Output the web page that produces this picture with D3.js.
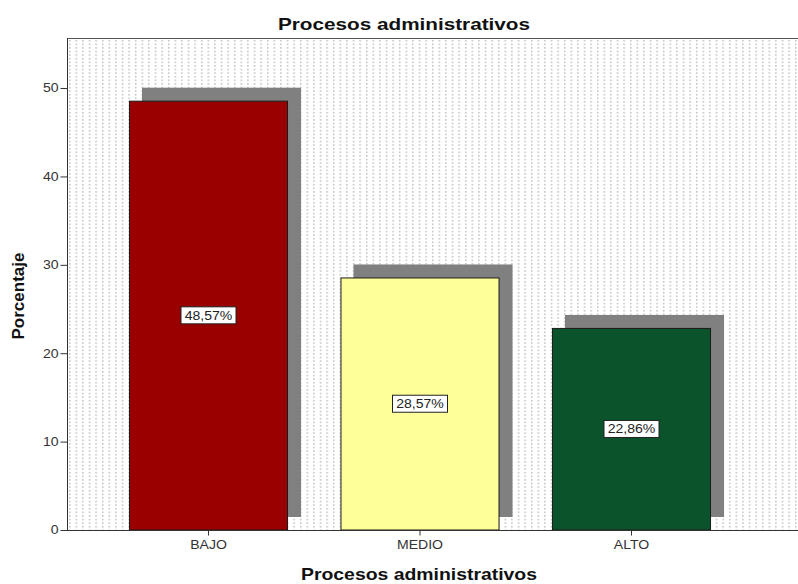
<!DOCTYPE html>
<html>
<head>
<meta charset="utf-8">
<script src="https://cdn.jsdelivr.net/npm/d3@7"></script>
<style>
  html, body { margin: 0; padding: 0; background: #fff; }
  svg { display: block; font-family: Arial, "Liberation Sans", sans-serif; }
</style>
</head>
<body>
<svg id="chart" width="798" height="584"></svg>
<script>
// Chart data
const categories = ["BAJO", "MEDIO", "ALTO"];
const percentages = [48.57, 28.57, 22.86];
const barColors = ["#990000", "#ffff99", "#0b532b"];
const yTicks = [0, 10, 20, 30, 40, 50];
const chartTitle = "Procesos administrativos";
const xTitle = "Procesos administrativos";
const yTitle = "Porcentaje";

const svg = d3.select("#chart");
const plot = { left: 67, top: 38, right: 798, bottom: 530 };
const FONT = "Arial, 'Liberation Sans', sans-serif";
const STRETCH = 1.17; // text is drawn slightly wide

// widen a text element horizontally by a factor, keeping its anchor
function widen(sel, k) {
  sel.each(function () {
    const w = this.getComputedTextLength();
    if (w > 0) {
      this.setAttribute("textLength", w * k);
      this.setAttribute("lengthAdjust", "spacingAndGlyphs");
    }
  });
}

const x = d3.scaleBand()
  .domain(categories)
  .range([102.75, 737.25])
  .paddingInner(0.248)
  .paddingOuter(0.124);

const y = d3.scaleLinear()
  .domain([0, 55.66])
  .range([plot.bottom, plot.top]);

// Dotted background pattern
const defs = svg.append("defs");
const pat = defs.append("pattern")
  .attr("id", "dots")
  .attr("patternUnits", "userSpaceOnUse")
  .attr("x", plot.left + 1).attr("y", plot.top + 1)
  .attr("width", 6.6).attr("height", 3.6);
pat.append("rect").attr("width", 6.6).attr("height", 3.6).attr("fill", "#fff");
pat.append("rect").attr("x", 1).attr("y", 1).attr("width", 1.4).attr("height", 1.4).attr("fill", "#b4b4b4");

svg.append("rect")
  .attr("x", plot.left).attr("y", plot.top)
  .attr("width", plot.right - plot.left).attr("height", plot.bottom - plot.top)
  .attr("fill", "url(#dots)");

// Top frame line
svg.append("line")
  .attr("x1", plot.left).attr("x2", plot.right)
  .attr("y1", plot.top + 0.5).attr("y2", plot.top + 0.5)
  .attr("stroke", "#555").attr("stroke-width", 1);

const off = 13;
const data = categories.map((c, i) => ({ c, v: percentages[i], color: barColors[i] }));

// Drop shadows
svg.append("g").selectAll("rect")
  .data(data).join("rect")
  .attr("x", d => x(d.c) + off)
  .attr("y", d => y(d.v) - off)
  .attr("width", x.bandwidth())
  .attr("height", d => y(0) - y(d.v))
  .attr("fill", "#808080");

// Bars
svg.append("g").selectAll("rect")
  .data(data).join("rect")
  .attr("x", d => x(d.c) + 0.5)
  .attr("y", d => y(d.v) + 0.5)
  .attr("width", x.bandwidth() - 1)
  .attr("height", d => y(0) - y(d.v) - 0.5)
  .attr("fill", d => d.color)
  .attr("stroke", "#1a1a1a").attr("stroke-width", 1);

// Value labels
const fmt = v => v.toFixed(2).replace(".", ",") + "%";
const lbl = svg.append("g").selectAll("g")
  .data(data).join("g")
  .attr("transform", d => `translate(${x(d.c) + x.bandwidth() / 2},${y(d.v / 2)})`);
lbl.append("rect")
  .attr("x", -27.5).attr("y", -8.5).attr("width", 55).attr("height", 17)
  .attr("fill", "#fff").attr("stroke", "#222").attr("stroke-width", 1);
const valText = lbl.append("text")
  .attr("text-anchor", "middle").attr("dy", "0.35em")
  .attr("font-size", 12).attr("fill", "#222")
  .text(d => fmt(d.v));
widen(valText, STRETCH);

// Y axis
const yAxis = svg.append("g")
  .attr("transform", `translate(${plot.left + 0.5},0)`)
  .call(d3.axisLeft(y).tickValues(yTicks).tickSize(7).tickPadding(2).tickFormat(d3.format("d")));
yAxis.select(".domain").attr("d", `M0,${plot.top}V${plot.bottom}`).attr("stroke", "#333");
yAxis.selectAll(".tick line").attr("stroke", "#333");
yAxis.selectAll(".tick text").attr("font-size", 12).attr("fill", "#333").attr("font-family", FONT)
  .call(widen, STRETCH);

// X axis
const xAxis = svg.append("g")
  .attr("transform", `translate(0,${plot.bottom + 0.5})`)
  .call(d3.axisBottom(x).tickSize(5).tickPadding(5));
xAxis.select(".domain").attr("d", `M${plot.left},0H${plot.right}`).attr("stroke", "#333");
xAxis.selectAll(".tick line").attr("stroke", "#333");
xAxis.selectAll(".tick text").attr("font-size", 12).attr("fill", "#333").attr("font-family", FONT)
  .call(widen, STRETCH);

// Titles
svg.append("text")
  .attr("x", 404).attr("y", 30)
  .attr("text-anchor", "middle").attr("font-size", 17).attr("font-weight", "bold").attr("fill", "#111")
  .attr("textLength", 252).attr("lengthAdjust", "spacingAndGlyphs")
  .text(chartTitle);
svg.append("text")
  .attr("x", 419).attr("y", 580)
  .attr("text-anchor", "middle").attr("font-size", 17).attr("font-weight", "bold").attr("fill", "#111")
  .attr("textLength", 236).attr("lengthAdjust", "spacingAndGlyphs")
  .text(xTitle);
svg.append("text")
  .attr("transform", `translate(24,${(plot.top + plot.bottom) / 2 + 12}) rotate(-90)`)
  .attr("text-anchor", "middle").attr("font-size", 17).attr("font-weight", "bold").attr("fill", "#111")
  .text(yTitle);
</script>
</body>
</html>
